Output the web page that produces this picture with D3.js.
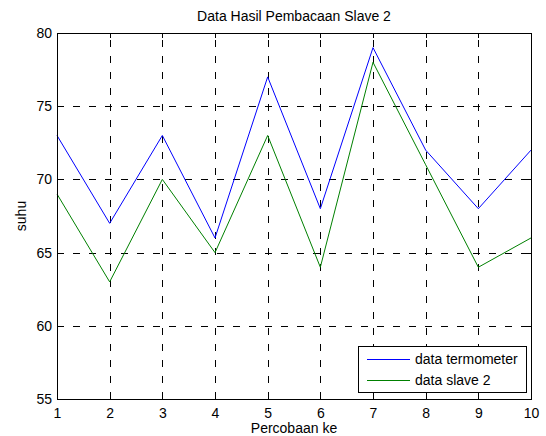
<!DOCTYPE html>
<html lang="en">
<head>
    <meta charset="UTF-8">
    <script src="https://d3js.org/d3.v7.min.js"></script>
    <title>Data Hasil Pembacaan Slave 2</title>
    <style>
        body { margin: 0; background: #fff; }
        text { font-family: "Liberation Sans", Arial, sans-serif; font-size: 14px; fill: #000; }
    </style>
</head>
<body>
    <script>
        var width = 546,
            height = 436,
            margin = { top: 33, right: 15, bottom: 37, left: 57 };

        // data
        var percobaan = [1, 2, 3, 4, 5, 6, 7, 8, 9, 10];
        var dataTermometer = [73, 67, 73, 66, 77, 68, 79, 72, 68, 72];
        var dataSlave2 = [69, 63, 70, 65, 73, 64, 78, 71, 64, 66];
        var yTicks = [55, 60, 65, 70, 75, 80];
        var seriesNames = ["data termometer", "data slave 2"];
        var seriesColors = ["#0000ff", "#008000"];

        var svg = d3.select("body").append("svg")
            .attr("width", width)
            .attr("height", height);

        var x = d3.scaleLinear().domain([1, 10]).range([margin.left, width - margin.right]);
        var y = d3.scaleLinear().domain([55, 80]).range([height - margin.bottom, margin.top]);

        var x0 = x.range()[0], x1 = x.range()[1], y0 = y.range()[0], y1 = y.range()[1];

        // grid lines, dashed (vertical ones drawn bottom-up like matlab)
        var grid = svg.append("g").attr("stroke", "#000").attr("stroke-width", 1)
            .attr("stroke-dasharray", "7,9").attr("shape-rendering", "crispEdges");
        grid.selectAll("line.gx").data(percobaan.slice(1, -1)).enter().append("line")
            .attr("x1", d => Math.round(x(d)) + 0.5).attr("x2", d => Math.round(x(d)) + 0.5)
            .attr("y1", y0).attr("y2", y1);
        grid.selectAll("line.gy").data(yTicks.slice(1, -1)).enter().append("line")
            .attr("x1", x0).attr("x2", x1)
            .attr("y1", d => Math.round(y(d)) + 0.5).attr("y2", d => Math.round(y(d)) + 0.5);

        // lines
        var series = [dataTermometer, dataSlave2];
        var line = d3.line().x((d, i) => x(percobaan[i])).y(d => y(d));
        svg.selectAll("path.series").data(series).enter().append("path")
            .attr("fill", "none")
            .attr("stroke", (d, i) => seriesColors[i])
            .attr("stroke-width", 1)
            .attr("d", line);

        // axes, ticks inside on all four sides
        var tickLen = 5;
        svg.append("g").attr("transform", "translate(0," + y0 + ")")
            .call(d3.axisBottom(x).tickValues(percobaan).tickSize(-tickLen).tickPadding(9))
            .call(g => g.select(".domain").remove());
        svg.append("g").attr("transform", "translate(0," + y1 + ")")
            .call(d3.axisTop(x).tickValues(percobaan).tickSize(-tickLen).tickFormat(""))
            .call(g => g.select(".domain").remove());
        svg.append("g").attr("transform", "translate(" + x0 + ",0)")
            .call(d3.axisLeft(y).tickValues(yTicks).tickSize(-tickLen).tickPadding(5))
            .call(g => g.select(".domain").remove());
        svg.append("g").attr("transform", "translate(" + x1 + ",0)")
            .call(d3.axisRight(y).tickValues(yTicks).tickSize(-tickLen).tickFormat(""))
            .call(g => g.select(".domain").remove());
        svg.selectAll(".tick text").attr("font-size", null).attr("font-family", null);
        svg.selectAll(".tick line").attr("shape-rendering", "crispEdges");

        svg.append("rect")
            .attr("x", x0 + 0.5).attr("y", y1 + 0.5)
            .attr("width", x1 - x0).attr("height", y0 - y1)
            .attr("fill", "none").attr("stroke", "#000").attr("stroke-width", 1)
            .attr("shape-rendering", "crispEdges");

        // title and labels
        svg.append("text").attr("x", (x0 + x1) / 2).attr("y", 21)
            .attr("text-anchor", "middle").text("Data Hasil Pembacaan Slave 2");
        svg.append("text").attr("x", (x0 + x1) / 2).attr("y", 433)
            .attr("text-anchor", "middle").text("Percobaan ke");
        svg.append("text")
            .attr("transform", "translate(26," + ((y0 + y1) / 2) + ") rotate(-90)")
            .attr("text-anchor", "middle").text("suhu");

        // legend
        var legend = svg.append("g").attr("transform", "translate(358,346)");
        legend.append("rect").attr("x", 0.5).attr("y", 0.5).attr("width", 168).attr("height", 46)
            .attr("fill", "#fff").attr("stroke", "#000").attr("shape-rendering", "crispEdges");
        var items = legend.selectAll("g.item").data(seriesNames).enter().append("g")
            .attr("transform", (d, i) => "translate(0," + (13.5 + i * 21) + ")");
        items.append("line").attr("x1", 9).attr("x2", 52)
            .attr("stroke", (d, i) => seriesColors[i]).attr("stroke-width", 1);
        items.append("text").attr("x", 57).attr("dy", "0.35em").text(d => d);
    </script>
</body>
</html>
